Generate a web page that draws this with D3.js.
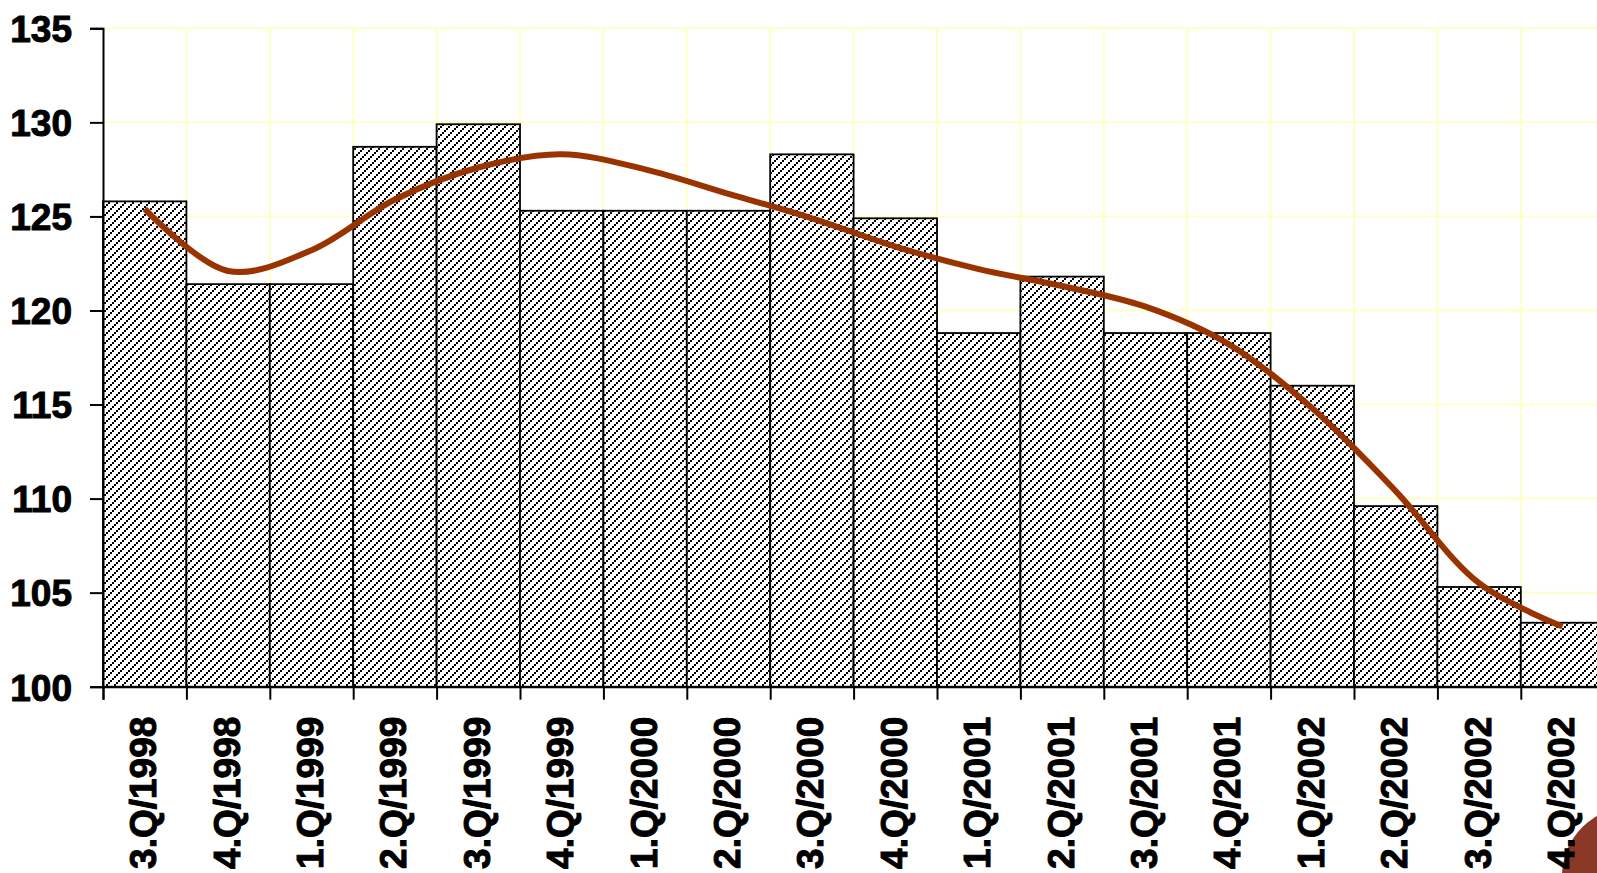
<!DOCTYPE html>
<html>
<head>
<meta charset="utf-8">
<script src="https://cdn.jsdelivr.net/npm/d3@7"></script>
<style>
  html, body { margin: 0; padding: 0; background: #ffffff; overflow: hidden; }
  svg { display: block; }
  text { font-family: "Liberation Sans", Arial, sans-serif; font-weight: bold; fill: #000; }
</style>
</head>
<body>
<svg id="chart" width="1597" height="873"></svg>
<script>
const categories = ["3.Q/1998","4.Q/1998","1.Q/1999","2.Q/1999","3.Q/1999","4.Q/1999",
  "1.Q/2000","2.Q/2000","3.Q/2000","4.Q/2000","1.Q/2001","2.Q/2001","3.Q/2001","4.Q/2001",
  "1.Q/2002","2.Q/2002","3.Q/2002","4.Q/2002"];
const barValues = [125.8,121.4,121.4,128.7,129.9,125.3,125.3,125.3,128.3,124.9,
  118.8,121.8,118.8,118.8,116.0,109.6,105.3,103.4];
const trendValues = [125.4,122.1,123.2,125.9,127.6,128.3,127.5,126.2,124.9,123.4,
  122.2,121.3,120.2,118.2,114.8,110.4,105.5,103.2];
const yTicks = [100,105,110,115,120,125,130,135];

(function () {
const svg = d3.select("#chart");
const mLeft = 103, mTop = 28.3, mBottom = 686.7, step = 83.4;
const mRight = mLeft + step * categories.length;

const x = d3.scaleBand().domain(categories).range([mLeft, mRight]).paddingInner(0).paddingOuter(0);
const xb = d3.scaleLinear().domain([0, categories.length]).range([mLeft, mRight]);
const y = d3.scaleLinear().domain([100, 135]).range([mBottom, mTop]);

// hatch pattern: staircase of 2x2 blocks (upward diagonals)
const defs = svg.append("defs");
const pat = defs.append("pattern").attr("id","hatch").attr("patternUnits","userSpaceOnUse")
  .attr("width",8).attr("height",8).attr("shape-rendering","crispEdges");
pat.append("rect").attr("width",8).attr("height",8).attr("fill","#fff");
const blocks = [[0,6],[2,4],[4,2],[6,0]];
pat.selectAll("rect.c").data(blocks).join("rect").attr("class","c")
  .attr("x", d => d[0]).attr("y", d => d[1]).attr("width",2).attr("height",2).attr("fill","#000");

// grid
const grid = svg.append("g");
grid.selectAll("line.h").data(yTicks.filter(d => d > 100)).join("line").attr("class","h")
  .attr("x1", mLeft).attr("x2", mRight).attr("y1", d => y(d)).attr("y2", d => y(d))
  .attr("stroke", "#ffffc4").attr("stroke-width", 2);
grid.selectAll("line.v").data(d3.range(1, categories.length + 1)).join("line").attr("class","v")
  .attr("x1", d => xb(d)).attr("x2", d => xb(d)).attr("y1", mTop).attr("y2", mBottom)
  .attr("stroke", "#ffffc4").attr("stroke-width", 2);

// bars
svg.append("g").selectAll("rect").data(barValues).join("rect")
  .attr("x", (d,i) => x(categories[i]))
  .attr("y", d => y(d))
  .attr("width", x.bandwidth())
  .attr("height", d => y(100) - y(d))
  .attr("fill", "url(#hatch)")
  .attr("stroke", "#000").attr("stroke-width", 1.8);

// trend line
const line = d3.line()
  .x((d,i) => x(categories[i]) + x.bandwidth()/2)
  .y(d => y(d))
  .curve(d3.curveCatmullRom.alpha(0.5));
svg.append("path").datum(trendValues).attr("d", line)
  .attr("fill","none").attr("stroke","#993300").attr("stroke-width",6)
  .attr("stroke-linejoin","round");

// y axis
const yAxis = svg.append("g").attr("transform", `translate(${mLeft},0)`)
  .call(d3.axisLeft(y).tickValues(yTicks).tickSize(13).tickPadding(18).tickFormat(d3.format("d")));
yAxis.select(".domain").attr("stroke","#000").attr("stroke-width",2);
yAxis.selectAll(".tick line").attr("stroke","#000").attr("stroke-width",2);
yAxis.selectAll(".tick text").attr("font-size", 37).attr("font-family","Liberation Sans, Arial, sans-serif")
  .attr("font-weight","bold").attr("fill","#000").attr("dy","0.36em")
  .attr("stroke","#000").attr("stroke-width",1);

// decorative circle
svg.append("circle").attr("cx", 1631).attr("cy", 876).attr("r", 69).attr("fill", "#8b3826");

// x axis (boundary ticks)
const xAxis = svg.append("g").attr("transform", `translate(0,${mBottom})`)
  .call(d3.axisBottom(xb).tickValues(d3.range(0, categories.length + 1)).tickSize(13).tickFormat(""));
xAxis.select(".domain").attr("stroke","#000").attr("stroke-width",2);
xAxis.selectAll(".tick line").attr("stroke","#000").attr("stroke-width",2);

// x labels
svg.append("g").selectAll("text").data(categories).join("text")
  .attr("transform", d => `translate(${x(d) + x.bandwidth()/2 - 1.5},${mBottom + 30}) rotate(-90)`)
  .attr("text-anchor","end")
  .attr("dy","0.35em")
  .attr("font-size", 37)
  .attr("stroke","#000").attr("stroke-width",1)
  .text(d => d);
})();
</script>
</body>
</html>
